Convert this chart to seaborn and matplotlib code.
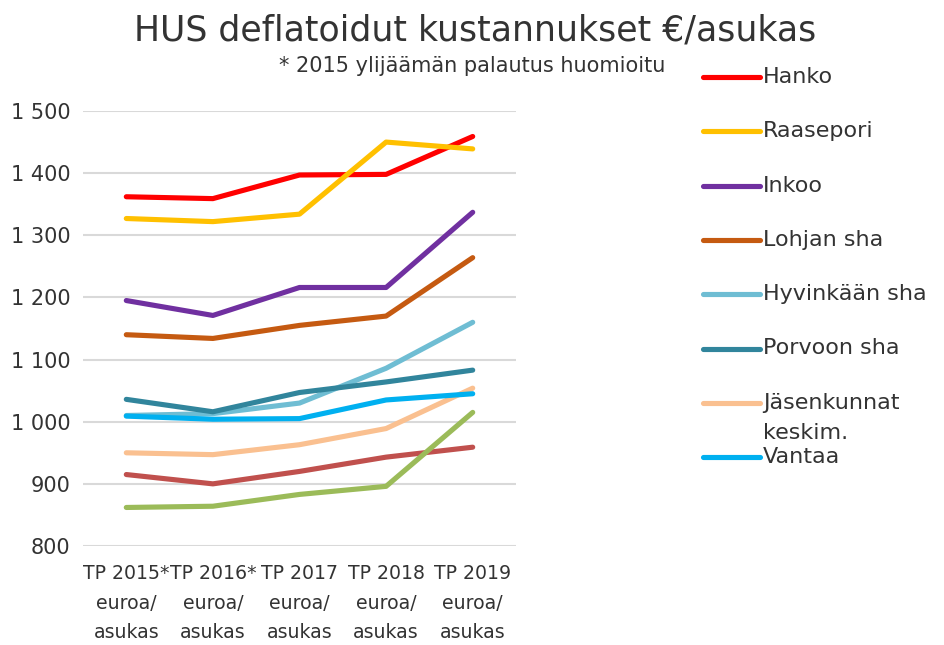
import pandas as pd
import seaborn as sns
import matplotlib.pyplot as plt
from matplotlib.lines import Line2D

periods = ["TP 2015*\neuroa/\nasukas", "TP 2016*\neuroa/\nasukas", "TP 2017\neuroa/\nasukas",
           "TP 2018\neuroa/\nasukas", "TP 2019\neuroa/\nasukas"]

hanko = [1362, 1359, 1397, 1398, 1459]
raasepori = [1327, 1322, 1334, 1450, 1439]
inkoo = [1195, 1171, 1216, 1216, 1337]
lohja = [1140, 1134, 1155, 1170, 1264]
hyvinkaa = [1010, 1013, 1030, 1086, 1160]
porvoo = [1036, 1016, 1047, 1064, 1083]
jasenkunnat = [950, 947, 963, 989, 1054]
vantaa = [1009, 1004, 1005, 1035, 1045]
# kaksi sarjaa joiden selite ei mahdu kuvaan
sarja9 = [915, 900, 920, 943, 959]
sarja10 = [862, 864, 883, 896, 1015]

names = ["Hanko", "Raasepori", "Inkoo", "Lohjan sha", "Hyvinkään sha", "Porvoon sha",
         "Jäsenkunnat\nkeskim.", "Vantaa", "sarja9", "sarja10"]
values = [hanko, raasepori, inkoo, lohja, hyvinkaa, porvoo, jasenkunnat, vantaa, sarja9, sarja10]
colors = ["#FF0000", "#FFC000", "#7030A0", "#C55A11", "#6FBDD3", "#31859C",
          "#FAC090", "#00B0F0", "#C0504D", "#9BBB59"]
legend_names = names[:8]

yticks = [800, 900, 1000, 1100, 1200, 1300, 1400, 1500]
ytick_labels = ["800", "900", "1 000", "1 100", "1 200", "1 300", "1 400", "1 500"]

rows = []
for name, vals in zip(names, values):
    for p, v in zip(periods, vals):
        rows.append((p, name, v))
df = pd.DataFrame(rows, columns=["jakso", "kunta", "euroa"])

sns.set_style("white")
plt.rcParams["font.family"] = ["DejaVu Sans"]
txt = "#333333"

fig = plt.figure(figsize=(9.44, 6.45), dpi=100)
ax = fig.add_axes([83 / 944, 1 - 546 / 645, 433 / 944, 435 / 645])

sns.lineplot(data=df, x="jakso", y="euroa", hue="kunta", palette=dict(zip(names, colors)),
             hue_order=names, linewidth=3.7, legend=False, sort=False, ax=ax,
             solid_capstyle="round")

ax.set_xlim(-0.5, 4.5)
ax.set_ylim(800, 1500)
ax.set_yticks(yticks)
ax.set_yticklabels(ytick_labels)
ax.set_xlabel("")
ax.set_ylabel("")
ax.yaxis.grid(True, color="#d9d9d9", linewidth=1.5)
ax.set_axisbelow(True)
sns.despine(ax=ax, left=True, bottom=True)
ax.tick_params(axis="y", length=0, pad=9, labelsize=15, labelcolor=txt)
ax.tick_params(axis="x", length=0, pad=13, labelsize=13.6, labelcolor=txt)
for lab in ax.get_xticklabels():
    lab.set_linespacing(1.7)

fig.text(475 / 944, 1 - 30 / 645, "HUS deflatoidut kustannukset €/asukas", ha="center", va="center",
         fontsize=25, color=txt)
fig.text(472 / 944, 1 - 66 / 645, "* 2015 ylijäämän palautus huomioitu", ha="center", va="center",
         fontsize=15, color=txt)

# selite
for i, (name, c) in enumerate(zip(legend_names, colors)):
    py = 77 + 54.3 * i
    fy = 1 - py / 645
    fig.add_artist(Line2D([703 / 944, 760 / 944], [fy, fy], transform=fig.transFigure,
                          color=c, linewidth=3.7, solid_capstyle="round"))
    for k, part in enumerate(name.split("\n")):
        fig.text(763 / 944, 1 - (py + 30 * k) / 645, part, ha="left", va="center",
                 fontsize=16, color=txt)

fig.savefig("out.png", dpi=100)
